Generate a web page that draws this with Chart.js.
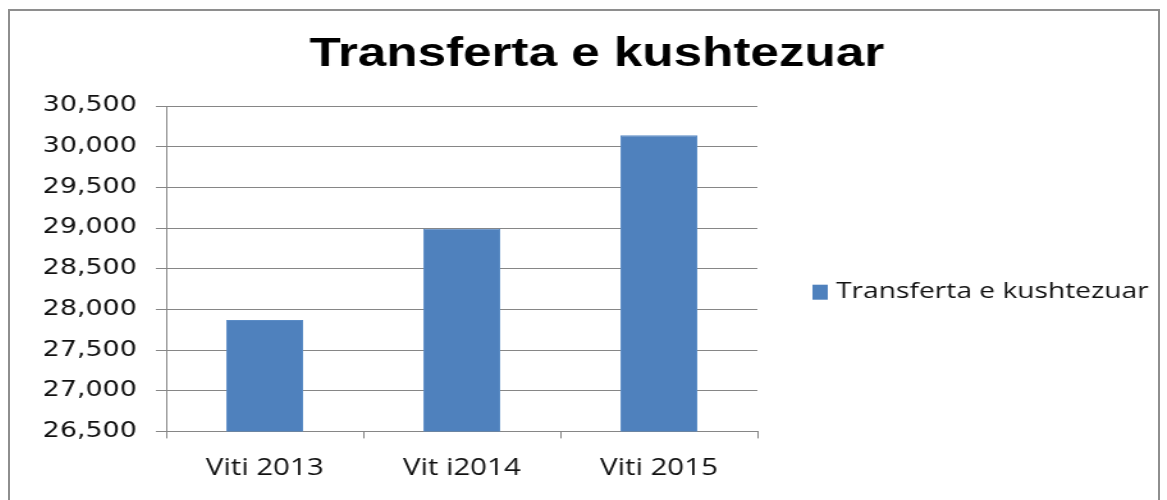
<!DOCTYPE html>
<html>
<head>
<meta charset="utf-8">
<script src="https://cdn.jsdelivr.net/npm/chart.js@4/dist/chart.umd.min.js"></script>
<style>
  html, body { margin: 0; padding: 0; background: #fff; overflow: hidden; }
  #frame {
    position: absolute; left: 8px; top: 9px;
    width: 1148px; height: 500px;
    border: 2px solid #8e8e8e; border-bottom: none;
    background: #fff;
  }
  #chart { display: block; }
</style>
</head>
<body>
<div id="frame">
  <!-- the original picture is stretched sideways, so draw narrower and let CSS widen it -->
  <canvas id="chart" width="897" height="489" style="width:1148px;height:489px"></canvas>
</div>
<script>
// Data
const categories = ['Viti 2013', 'Vit i2014', 'Viti 2015'];
const seriesName = 'Transferta e kushtezuar';
const seriesValues = [27870, 28990, 30140];
const yMin = 26500;
const yMax = 30500;
const yStep = 500;

const ctx = document.getElementById('chart').getContext('2d');

// Chart.js clamps a right-hand legend to a quarter of the width, which is too
// narrow here, so the legend entry is drawn next to the plot by hand.
const sideLegend = {
    id: 'sideLegend',
    afterDraw(chart) {
        const c = chart.ctx;
        const area = chart.chartArea;
        const x = area.right + 43;
        const y = (area.top + area.bottom) / 2 + 23.5;
        chart.data.datasets.forEach((ds) => {
            c.save();
            c.fillStyle = ds.backgroundColor;
            c.fillRect(x, y - 7.5, 12, 15);
            c.fillStyle = '#111';
            c.font = '22px "Open Sans"';
            c.textBaseline = 'middle';
            c.fillText(ds.label, x + 18.5, y);
            c.restore();
        });
    }
};

const chart = new Chart(ctx, {
    type: 'bar',
    data: {
        labels: categories,
        datasets: [{
            label: seriesName,
            data: seriesValues,
            backgroundColor: '#4F81BD',
            borderColor: '#5b8cc6',
            borderWidth: 1,
            barPercentage: 0.39,
            categoryPercentage: 1.0
        }]
    },
    options: {
        responsive: false,
        animation: false,
        layout: {
            padding: { left: 20, right: 0, top: 0, bottom: 2 }
        },
        scales: {
            x: {
                offset: true,
                grid: {
                    offset: true,
                    drawOnChartArea: false,
                    color: '#868686',
                    tickLength: 7
                },
                border: { color: '#868686', width: 1 },
                ticks: {
                    color: '#111',
                    padding: 16,
                    font: { family: 'Open Sans', size: 23 }
                }
            },
            y: {
                min: yMin,
                max: yMax,
                afterFit: (scale) => { scale.width = 102; },
                grid: {
                    color: '#868686',
                    tickLength: 8
                },
                border: { color: '#868686', width: 1 },
                ticks: {
                    stepSize: yStep,
                    color: '#111',
                    padding: 15,
                    font: { family: 'DejaVu Sans', size: 21 },
                    callback: (v) => v.toLocaleString('en-US')
                }
            },
            // room on the right for the legend
            gap: {
                type: 'linear',
                position: 'right',
                grid: { display: false },
                border: { display: false },
                ticks: { display: false },
                afterFit: (scale) => { scale.width = 313; }
            }
        },
        plugins: {
            title: {
                display: true,
                text: seriesName,
                color: '#000',
                font: { family: 'Liberation Sans', size: 40, weight: 'bold' },
                padding: { top: 20, bottom: 27 }
            },
            legend: { display: false },
            tooltip: { enabled: false }
        }
    },
    plugins: [sideLegend]
});
</script>
</body>
</html>
